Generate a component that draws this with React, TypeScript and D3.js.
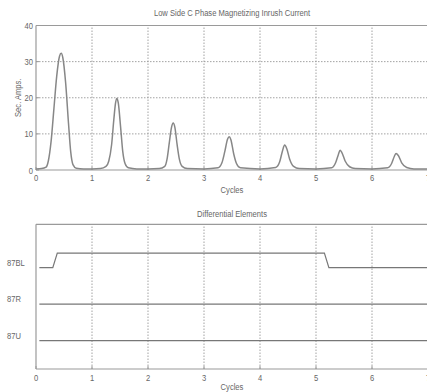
import React from "react";
import * as d3 from "d3";

// ---- Data ----
const inrushX = [0, 0.1, 0.18, 0.22, 0.27, 0.32, 0.37, 0.42, 0.45, 0.48, 0.53, 0.58, 0.62, 0.66, 0.72,
  0.85, 1.0, 1.15, 1.25, 1.3, 1.35, 1.39, 1.42, 1.445, 1.47, 1.51, 1.55, 1.59, 1.65,
  1.8, 2.0, 2.2, 2.3, 2.34, 2.38, 2.42, 2.45, 2.48, 2.52, 2.56, 2.61, 2.7,
  3.0, 3.25, 3.32, 3.37, 3.42, 3.45, 3.48, 3.53, 3.58, 3.65,
  4.0, 4.28, 4.35, 4.4, 4.44, 4.48, 4.53, 4.6, 4.7,
  5.0, 5.28, 5.35, 5.4, 5.43, 5.46, 5.52, 5.6, 5.7,
  6.0, 6.28, 6.35, 6.4, 6.43, 6.47, 6.53, 6.62, 6.75, 7.0];
const inrushY = [0.3, 0.4, 0.8, 2.5, 8, 17, 26, 31.5, 32.3, 31, 24, 13, 5, 1.5, 0.5,
  0.3, 0.3, 0.4, 1, 2.5, 7, 14, 18.5, 19.8, 18.5, 12, 5, 1.8, 0.6,
  0.3, 0.3, 0.4, 1, 3, 7.5, 11.8, 13, 11.8, 7, 3, 1, 0.4,
  0.3, 0.6, 2, 5, 8.5, 9.2, 8.4, 4.5, 1.8, 0.6,
  0.3, 0.7, 2.2, 5.2, 6.9, 5.8, 3, 1, 0.4,
  0.3, 0.6, 2, 4.3, 5.5, 4.9, 2.5, 0.9, 0.4,
  0.3, 0.6, 1.8, 3.8, 4.6, 4, 2, 0.7, 0.3, 0.3];

const cycleTicks = [0, 1, 2, 3, 4, 5, 6, 7];
const ampTicks = [0, 10, 20, 30, 40];

const elementNames = ["87BL", "87R", "87U"];
const elementLevels = [3, 2, 1];
const bl87X = [0.06, 0.3, 0.38, 5.15, 5.23, 7];
const bl87Y = [3, 3, 3.4, 3.4, 3, 3];
const r87X = [0.06, 7];
const r87Y = [2, 2];
const u87X = [0.06, 7];
const u87Y = [1, 1];

const topTitle = "Low Side C Phase Magnetizing Inrush Current";
const bottomTitle = "Differential Elements";
const xLabel = "Cycles";
const yLabel = "Sec. Amps.";

// ---- Layout ----
const W = 427;
const H = 392;
const left = 36;
const rightEdge = 428;
const font = "'Liberation Sans', Arial, sans-serif";
const textColor = "#666";
const axisColor = "#9a9a9a";
const gridColor = "#999";
const lineColor = "#878787";
const fs = 9.5;
const sx = 0.8;

function T({ x, y, anchor = "middle", rotate = 0, children }: { x: number; y: number; anchor?: string; rotate?: number; children: React.ReactNode }) {
  return (
    <text
      transform={`translate(${x},${y}) rotate(${rotate}) scale(${sx},1)`}
      textAnchor={anchor}
      fontSize={fs}
      fontFamily={font}
      fill={textColor}
    >
      {children}
    </text>
  );
}

export default function App() {
  const x = d3.scaleLinear().domain([0, 7]).range([left, rightEdge]);
  const yTop = d3.scaleLinear().domain([0, 40]).range([170, 25.5]);
  const yBot = d3.scaleLinear().domain([0.22, 4.19]).range([369, 224.3]);

  const curve = d3
    .line<number>()
    .x((_, i) => x(inrushX[i]))
    .y((d) => yTop(d))
    .curve(d3.curveMonotoneX);

  const stepLine = (xs: number[], ys: number[]) =>
    d3
      .line<number>()
      .x((_, i) => x(xs[i]))
      .y((d) => yBot(d))(ys) as string;

  const [bBottom, bTop] = yBot.range();
  const mid = (x(0) + x(7)) / 2;
  const dash = "1.5,1.5";

  return (
    <svg width={W} height={H} style={{ position: "absolute", left: 0, top: 0, background: "#fff" }}>
      <rect width={W} height={H} fill="#fff" />
      {/* ---------- Top panel ---------- */}
      <g>
        {cycleTicks.slice(1).map((t) => (
          <line key={"gx" + t} x1={x(t)} x2={x(t)} y1={yTop(0)} y2={yTop(40)} stroke={gridColor} strokeWidth={0.9} strokeDasharray={dash} />
        ))}
        {ampTicks.slice(1, -1).map((t) => (
          <line key={"gy" + t} x1={x(0)} x2={rightEdge} y1={yTop(t)} y2={yTop(t)} stroke={gridColor} strokeWidth={0.9} strokeDasharray={dash} />
        ))}
        <line x1={x(0)} x2={rightEdge} y1={yTop(40)} y2={yTop(40)} stroke={axisColor} strokeWidth={1.2} />
        <line x1={x(0)} x2={rightEdge} y1={yTop(0)} y2={yTop(0)} stroke={axisColor} strokeWidth={1.2} />
        <line x1={x(0)} x2={x(0)} y1={yTop(0)} y2={yTop(40)} stroke={axisColor} strokeWidth={1.2} />
        {cycleTicks.map((t) => (
          <g key={"tx" + t}>
            <line x1={x(t)} x2={x(t)} y1={yTop(0)} y2={yTop(0) - 3} stroke={axisColor} />
            <T x={x(t)} y={yTop(0) + 11}>{t}</T>
          </g>
        ))}
        {ampTicks.map((t) => (
          <g key={"ty" + t}>
            <line x1={x(0)} x2={x(0) + 3} y1={yTop(t)} y2={yTop(t)} stroke={axisColor} />
            <T x={x(0) - 3} y={yTop(t) + 3.5} anchor="end">{t}</T>
          </g>
        ))}
        <path d={curve(inrushY) as string} fill="none" stroke={lineColor} strokeWidth={1.5} />
        <T x={mid} y={16}>{topTitle}</T>
        <T x={mid} y={193}>{xLabel}</T>
        <T x={21} y={(yTop(0) + yTop(40)) / 2} rotate={-90}>{yLabel}</T>
      </g>

      {/* ---------- Bottom panel ---------- */}
      <g>
        {cycleTicks.slice(1).map((t) => (
          <line key={"bgx" + t} x1={x(t)} x2={x(t)} y1={bBottom} y2={bTop} stroke={gridColor} strokeWidth={0.9} strokeDasharray={dash} />
        ))}
        <line x1={x(0)} x2={rightEdge} y1={bTop} y2={bTop} stroke={axisColor} strokeWidth={1.2} />
        <line x1={x(0)} x2={rightEdge} y1={bBottom} y2={bBottom} stroke={axisColor} strokeWidth={1.2} />
        <line x1={x(0)} x2={x(0)} y1={bBottom} y2={bTop} stroke={axisColor} strokeWidth={1.2} />
        {cycleTicks.map((t) => (
          <g key={"btx" + t}>
            <line x1={x(t)} x2={x(t)} y1={bBottom} y2={bBottom - 3} stroke={axisColor} />
            <T x={x(t)} y={bBottom + 12}>{t}</T>
          </g>
        ))}
        {elementNames.map((n, i) => (
          <T key={n} x={7} y={yBot(elementLevels[i] + 0.15) + 3.5} anchor="start">{n}</T>
        ))}
        <path d={stepLine(bl87X, bl87Y)} fill="none" stroke="#777" strokeWidth={1.2} />
        <path d={stepLine(r87X, r87Y)} fill="none" stroke="#777" strokeWidth={1.2} />
        <path d={stepLine(u87X, u87Y)} fill="none" stroke="#777" strokeWidth={1.2} />
        <T x={mid} y={217}>{bottomTitle}</T>
        <T x={mid} y={390}>{xLabel}</T>
      </g>
    </svg>
  );
}
